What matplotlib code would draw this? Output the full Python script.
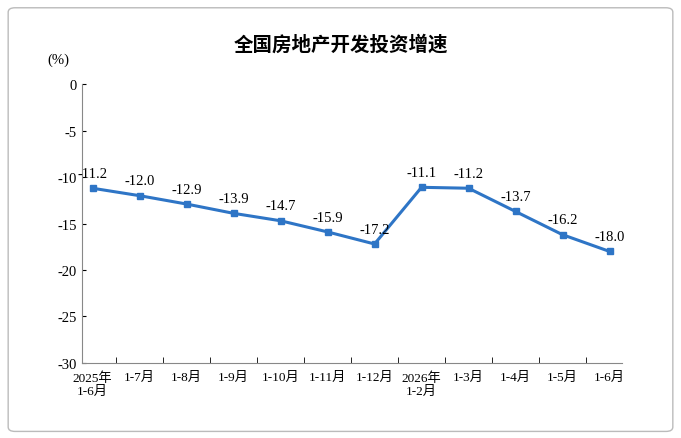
import matplotlib.pyplot as plt
from matplotlib.patches import FancyBboxPatch

plt.rcParams['font.family'] = ['Liberation Serif', 'Noto Sans CJK SC']

categories = ['2025年\n1-6月', '1-7月', '1-8月', '1-9月', '1-10月', '1-11月', '1-12月',
              '2026年\n1-2月', '1-3月', '1-4月', '1-5月', '1-6月']
values = [-11.2, -12.0, -12.9, -13.9, -14.7, -15.9, -17.2, -11.1, -11.2, -13.7, -16.2, -18.0]
yticks = [0, -5, -10, -15, -20, -25, -30]

fig = plt.figure(figsize=(6.81, 4.39), dpi=100)
fig.patches.append(FancyBboxPatch((0.012, 0.015), 0.976, 0.965, boxstyle='round,pad=0,rounding_size=0.01',
                                  transform=fig.transFigure, fc='none', ec='#BBBBBB', lw=1, zorder=-10))
ax = fig.add_axes([0.120, 0.171, 0.793, 0.635])
ax.patch.set_alpha(0)
x = list(range(len(values)))
ax.plot(x, values, color='#2E75C6', lw=2.2, marker='s', ms=4.5)
for xi, v in zip(x, values):
    ax.text(xi, v + 0.9, f'{v:.1f}', ha='center', va='bottom', fontsize=10.5)

ax.set_xlim(-0.23, 11.26)
ax.set_ylim(-30, 0)
ax.set_yticks(yticks)
ax.set_yticklabels([str(t) for t in yticks], fontsize=10.5)
ax.set_xticks(x)
ax.set_xticklabels(categories, fontsize=9.5, linespacing=1.1)
ax.tick_params(axis='x', length=0, pad=6)
ax.tick_params(axis='y', length=3, direction='in')
ax.set_xticks([i + 0.5 for i in range(11)], minor=True)
ax.tick_params(axis='x', which='minor', length=4, direction='in')
for s in ['top', 'right']:
    ax.spines[s].set_visible(False)
for s in ['left', 'bottom']:
    ax.spines[s].set_color('#888888')

fig.text(0.07, 0.855, '(%)', fontsize=10.5)
fig.text(0.5, 0.885, '全国房地产开发投资增速', ha='center', fontsize=14, fontweight='bold',
         family=['Noto Sans CJK SC'])
fig.savefig('out.png', dpi=100)
